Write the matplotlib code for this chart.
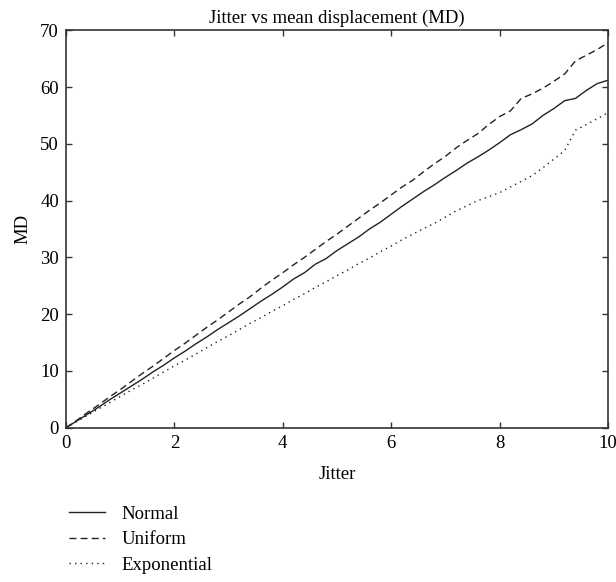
import numpy as np
import matplotlib
matplotlib.use("Agg")
import matplotlib.pyplot as plt

# jitter values (x axis)
jitter = np.arange(0, 10.01, 0.2)

# mean displacement
md_normal = [0.0, 1.2, 2.4, 3.6, 4.9, 6.1, 7.3, 8.5, 9.8, 11.0,
             12.3, 13.5, 14.8, 16.0, 17.3, 18.5, 19.7, 21.0, 22.3, 23.5,
             24.8, 26.2, 27.3, 28.8, 29.8, 31.2, 32.4, 33.6, 35.0, 36.2,
             37.6, 39.0, 40.3, 41.6, 42.8, 44.1, 45.3, 46.6, 47.7, 48.9,
             50.2, 51.6, 52.5, 53.5, 55.0, 56.2, 57.6, 58.0, 59.4, 60.6,
             61.2]
md_uniform = [0.0, 1.3, 2.7, 4.0, 5.4, 6.7, 8.1, 9.5, 10.8, 12.2,
              13.6, 14.9, 16.3, 17.7, 19.0, 20.4, 21.8, 23.1, 24.6, 26.0,
              27.3, 28.7, 30.0, 31.4, 32.8, 34.1, 35.5, 36.9, 38.3, 39.6,
              41.0, 42.4, 43.6, 45.1, 46.5, 47.8, 49.3, 50.6, 51.8, 53.4,
              54.8, 55.8, 58.0, 58.8, 59.8, 61.0, 62.3, 64.6, 65.6, 66.6,
              67.8]
md_exponential = [0.0, 1.1, 2.2, 3.3, 4.4, 5.5, 6.6, 7.6, 8.7, 9.8,
                  10.9, 11.9, 13.0, 14.1, 15.2, 16.2, 17.3, 18.4, 19.4, 20.5,
                  21.5, 22.6, 23.6, 24.7, 25.7, 26.8, 27.8, 28.9, 29.9, 31.0,
                  32.0, 33.1, 34.1, 35.1, 36.0, 37.1, 38.2, 39.1, 40.0, 40.7,
                  41.4, 42.4, 43.4, 44.4, 45.8, 47.3, 48.8, 52.4, 53.4, 54.4,
                  55.5]

plt.rcParams['font.family'] = ['Liberation Serif', 'DejaVu Serif']
plt.rcParams['font.size'] = 13.5

fig = plt.figure(figsize=(6.16, 5.82), dpi=100)
ax = fig.add_axes([0.107, 0.265, 0.880, 0.683])

ax.plot(jitter, md_normal, color='#222222', lw=1.0, ls='-', label='Normal')
ax.plot(jitter, md_uniform, color='#222222', lw=1.0, ls=(0, (5, 3)), label='Uniform')
ax.plot(jitter, md_exponential, color='#222222', lw=1.0, ls=(0, (1, 3)), label='Exponential')

ax.set_xlim(0, 10)
ax.set_ylim(0, 70)
ax.set_xticks([0, 2, 4, 6, 8, 10])
ax.set_yticks(np.arange(0, 71, 10))
ax.tick_params(direction='in', top=True, right=True, length=4, width=1.0,
               color='#333333', pad=5)
ax.set_xlabel('Jitter', labelpad=10)
ax.set_ylabel('MD', labelpad=6)
ax.set_title('Jitter vs mean displacement (MD)', fontsize=13.5, pad=5)
for s in ax.spines.values():
    s.set_color('#333333')
    s.set_linewidth(1.2)

fig.legend(loc='upper left', bbox_to_anchor=(0.085, 0.16), frameon=False,
           handlelength=1.9, handletextpad=0.9, labelspacing=0.45, fontsize=13.5)

plt.savefig('out.png', dpi=100)
